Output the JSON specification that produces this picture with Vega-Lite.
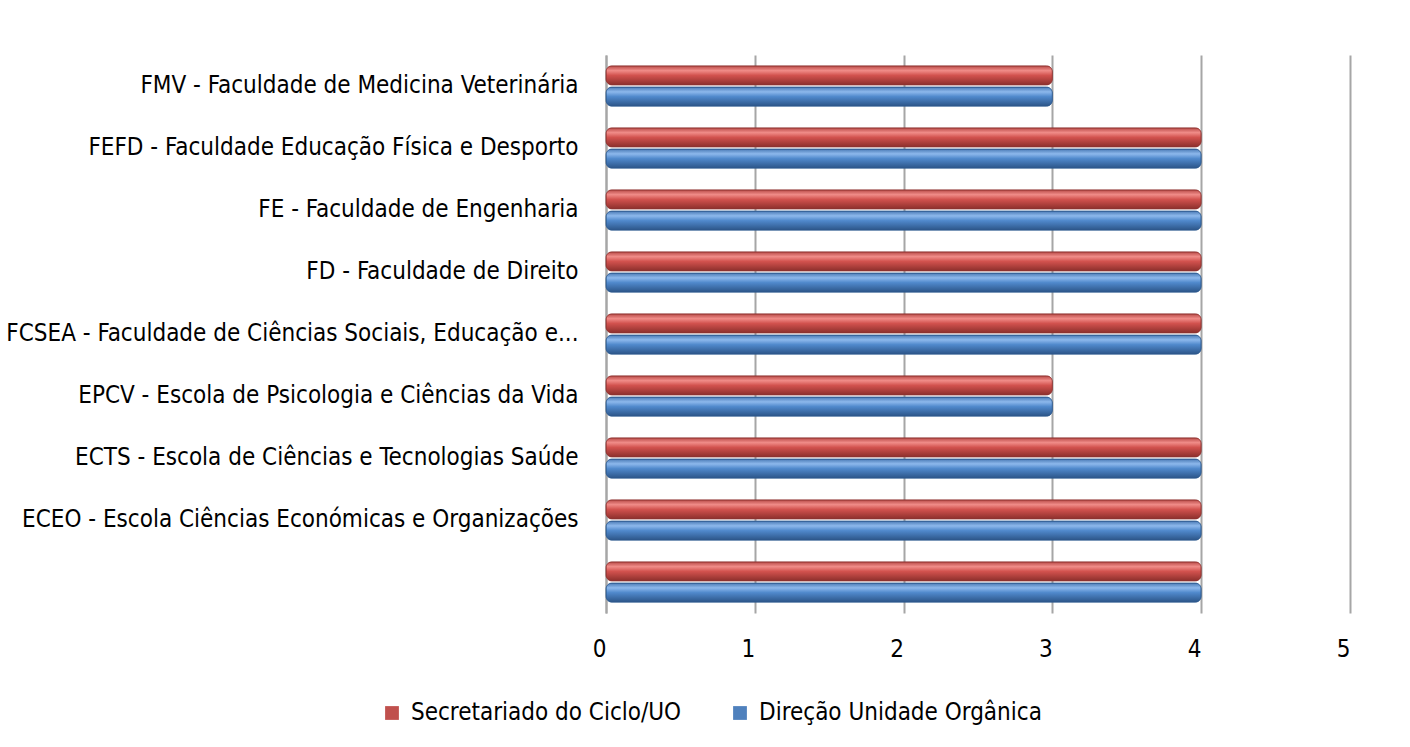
{
  "$schema": "https://vega.github.io/schema/vega-lite/v6.json",
  "autosize": {"type": "none"},
  "padding": {"left": 606, "top": 55, "right": 60, "bottom": 134},
  "width": 744,
  "height": 558,
  "background": "white",
  "config": {
    "font": "'DejaVu Sans Condensed', 'Open Sans', sans-serif",
    "view": {"stroke": null}
  },
  "data": {
    "values": [
      {"category": "FMV - Faculdade de Medicina Veterinária", "series": "Secretariado do Ciclo/UO", "value": 3},
      {"category": "FMV - Faculdade de Medicina Veterinária", "series": "Direção Unidade Orgânica", "value": 3},
      {"category": "FEFD - Faculdade Educação Física e Desporto", "series": "Secretariado do Ciclo/UO", "value": 4},
      {"category": "FEFD - Faculdade Educação Física e Desporto", "series": "Direção Unidade Orgânica", "value": 4},
      {"category": "FE - Faculdade de Engenharia", "series": "Secretariado do Ciclo/UO", "value": 4},
      {"category": "FE - Faculdade de Engenharia", "series": "Direção Unidade Orgânica", "value": 4},
      {"category": "FD - Faculdade de Direito ", "series": "Secretariado do Ciclo/UO", "value": 4},
      {"category": "FD - Faculdade de Direito ", "series": "Direção Unidade Orgânica", "value": 4},
      {"category": "FCSEA - Faculdade de Ciências Sociais, Educação e...", "series": "Secretariado do Ciclo/UO", "value": 4},
      {"category": "FCSEA - Faculdade de Ciências Sociais, Educação e...", "series": "Direção Unidade Orgânica", "value": 4},
      {"category": "EPCV - Escola de Psicologia e Ciências da Vida", "series": "Secretariado do Ciclo/UO", "value": 3},
      {"category": "EPCV - Escola de Psicologia e Ciências da Vida", "series": "Direção Unidade Orgânica", "value": 3},
      {"category": "ECTS - Escola de Ciências e Tecnologias Saúde ", "series": "Secretariado do Ciclo/UO", "value": 4},
      {"category": "ECTS - Escola de Ciências e Tecnologias Saúde ", "series": "Direção Unidade Orgânica", "value": 4},
      {"category": "ECEO - Escola Ciências Económicas e Organizações", "series": "Secretariado do Ciclo/UO", "value": 4},
      {"category": "ECEO - Escola Ciências Económicas e Organizações", "series": "Direção Unidade Orgânica", "value": 4},
      {"category": " ", "series": "Secretariado do Ciclo/UO", "value": 4},
      {"category": " ", "series": "Direção Unidade Orgânica", "value": 4}
    ]
  },
  "encoding": {
    "y": {
      "field": "category",
      "type": "nominal",
      "sort": null,
      "title": null,
      "scale": {"paddingInner": 0.35, "paddingOuter": 0.175},
      "axis": {
        "labelFontSize": 24,
        "labelColor": "#000000",
        "labelPadding": 28,
        "labelLimit": 600,
        "ticks": false,
        "domain": true,
        "domainColor": "#A6A6A6",
        "domainWidth": 2
      }
    },
    "yOffset": {
      "field": "series",
      "type": "nominal",
      "sort": ["Secretariado do Ciclo/UO", "Direção Unidade Orgânica"],
      "scale": {"paddingInner": 0.1}
    },
    "x": {
      "field": "value",
      "type": "quantitative",
      "title": null,
      "scale": {"domain": [0, 5]},
      "axis": {
        "values": [0, 1, 2, 3, 4, 5],
        "labelFontSize": 24,
        "labelColor": "#000000",
        "labelPadding": 24,
        "labelFlush": false,
        "labelOffset": -7,
        "ticks": false,
        "domain": false,
        "grid": true,
        "gridColor": "#A6A6A6",
        "gridWidth": 2
      }
    }
  },
  "layer": [
    {
      "mark": {"type": "bar", "cornerRadius": 6},
      "encoding": {
        "color": {
          "field": "series",
          "type": "nominal",
          "sort": ["Secretariado do Ciclo/UO", "Direção Unidade Orgânica"],
          "scale": {"domain": ["Secretariado do Ciclo/UO", "Direção Unidade Orgânica"], "range": ["#C0504D", "#4F81BD"]},
          "legend": {
            "orient": "none",
            "legendX": -226,
            "legendY": 646,
            "direction": "horizontal",
            "title": null,
            "symbolType": "square",
            "symbolSize": 190,
            "symbolStrokeWidth": 0,
            "labelFontSize": 24,
            "labelColor": "#000000",
            "labelLimit": 400,
            "columnPadding": 46,
            "labelOffset": 7
          }
        }
      }
    },
    {
      "transform": [{"filter": "datum.series === 'Secretariado do Ciclo/UO'"}],
      "mark": {
        "type": "bar",
        "cornerRadius": 6,
        "stroke": "#8E3532",
        "strokeWidth": 0.8,
        "fill": {
          "gradient": "linear", "x1": 0, "y1": 0, "x2": 0, "y2": 1,
          "stops": [
            {"offset": 0, "color": "#B84A47"},
            {"offset": 0.25, "color": "#F08C88"},
            {"offset": 0.5, "color": "#D2524E"},
            {"offset": 1, "color": "#8C2F2C"}
          ]
        }
      }
    },
    {
      "transform": [{"filter": "datum.series === 'Direção Unidade Orgânica'"}],
      "mark": {
        "type": "bar",
        "cornerRadius": 6,
        "stroke": "#2E5A8E",
        "strokeWidth": 0.8,
        "fill": {
          "gradient": "linear", "x1": 0, "y1": 0, "x2": 0, "y2": 1,
          "stops": [
            {"offset": 0, "color": "#4A7AB5"},
            {"offset": 0.25, "color": "#8DB8EC"},
            {"offset": 0.5, "color": "#5089CC"},
            {"offset": 1, "color": "#2C5588"}
          ]
        }
      }
    }
  ]
}
